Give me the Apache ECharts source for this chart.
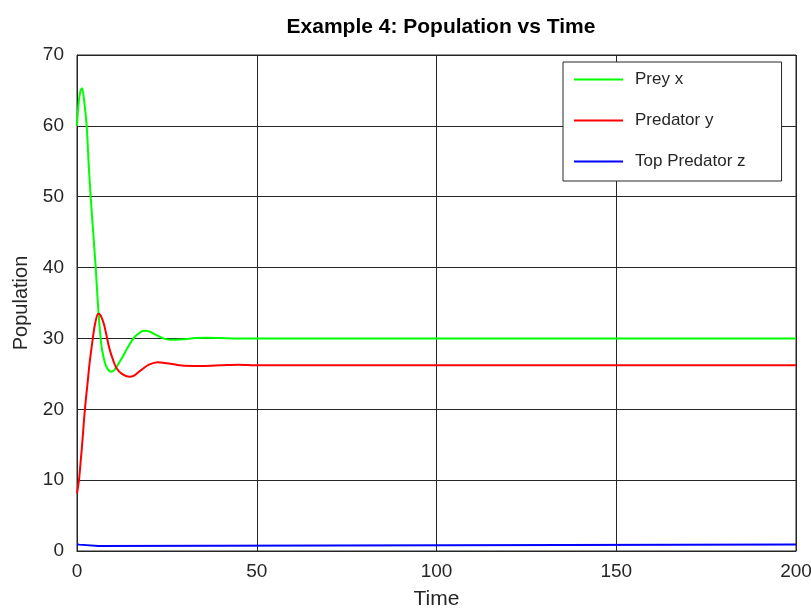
<!DOCTYPE html>
<html>
<head>
<meta charset="utf-8">
<script src="https://cdn.jsdelivr.net/npm/echarts@6/dist/echarts.min.js"></script>
<style>html,body{margin:0;padding:0;background:#fff;}#c{width:811px;height:610px;}</style>
</head>
<body>
<div id="c"></div>
<script>
var seriesNames = ["Prey x", "Predator y", "Top Predator z"];
var xTicks = [0, 50, 100, 150, 200];
var yTicks = [0, 10, 20, 30, 40, 50, 60, 70];

var preyT = [0, 0.5, 1, 1.4, 2, 2.7, 3.2, 3.8, 4.5, 5.2, 5.8, 6.4, 7, 8, 9, 9.6, 10.5, 12, 14, 16, 18, 19, 20.5, 22, 24, 26, 27.5, 30, 33, 36, 40, 45, 200];
var preyX = [60, 63.5, 65.0, 65.3, 63.5, 60, 55, 50, 45, 40, 35, 31, 28.3, 26.2, 25.4, 25.3, 25.6, 26.8, 28.6, 30.2, 31.0, 31.1, 30.9, 30.5, 30.0, 29.8, 29.8, 29.9, 30.05, 30.1, 30.05, 30.0, 30.0];

var predT = [0, 0.55, 1, 1.5, 2.2, 3, 3.5, 4.4, 5, 5.9, 6.5, 7.5, 9, 10, 11, 12.5, 14.5, 16, 18, 20, 22.5, 25, 28, 30, 35, 40, 45, 50, 200];
var predY = [8.1, 10, 12.5, 15.5, 20, 24, 26.5, 30, 32, 33.5, 33.3, 32, 28.6, 27, 25.8, 25, 24.6, 24.8, 25.6, 26.3, 26.65, 26.5, 26.25, 26.15, 26.1, 26.2, 26.3, 26.2, 26.2];

var topT = [0, 0.6, 0.8, 6, 6.2, 200];
var topZ = [0.95, 0.9, 0.72, 0.72, 0.9, 0.9];

function pairs(t, v) { return t.map(function (x, i) { return [x, v[i]]; }); }

var font = "Liberation Sans";
var lineColor = "#262626";
var chart = echarts.init(document.getElementById("c"), null, { renderer: "canvas" });
chart.setOption({
  animation: false,
  backgroundColor: "#fff",
  title: {
    text: "Example 4: Population vs Time",
    left: 436, top: 12, textAlign: "center",
    textStyle: { fontFamily: font, fontSize: 21, fontWeight: "bold", color: "#000" }
  },
  grid: { left: 77, right: 15, top: 55, bottom: 59, show: true, borderColor: lineColor, borderWidth: 1, containLabel: false, outerBoundsMode: "none" },
  legend: {
    orient: "vertical", left: 563, top: 62,
    padding: [9, 36, 11, 11], itemGap: 24,
    itemWidth: 49, itemHeight: 2, icon: "rect",
    backgroundColor: "#fff", borderColor: lineColor, borderWidth: 1,
    textStyle: { fontFamily: font, fontSize: 17, color: "#262626", padding: [0, 0, 0, 7] },
    data: seriesNames
  },
  xAxis: [{
    type: "value", min: xTicks[0], max: xTicks[xTicks.length - 1], interval: 50,
    name: "Time", nameLocation: "middle", nameGap: 38,
    nameTextStyle: { fontFamily: font, fontSize: 21, color: "#262626" },
    axisLine: { show: true, lineStyle: { color: lineColor } },
    axisTick: { show: true, inside: true, length: 5, lineStyle: { color: lineColor } },
    axisLabel: { fontFamily: font, fontSize: 19, color: "#262626", margin: 11 },
    splitLine: { show: true, lineStyle: { color: lineColor, width: 1 } }
  }],
  yAxis: [{
    type: "value", min: yTicks[0], max: yTicks[yTicks.length - 1], interval: 10,
    name: "Population", nameLocation: "middle", nameGap: 45,
    nameTextStyle: { fontFamily: font, fontSize: 20, color: "#262626" },
    axisLine: { show: true, lineStyle: { color: lineColor } },
    axisTick: { show: true, inside: true, length: 5, lineStyle: { color: lineColor } },
    axisLabel: { fontFamily: font, fontSize: 19, color: "#262626", margin: 13 },
    splitLine: { show: true, lineStyle: { color: lineColor, width: 1 } }
  }],
  series: [
    { name: seriesNames[0], type: "line", data: pairs(preyT, preyX), showSymbol: false, symbol: "none", smooth: 0.3, lineStyle: { color: "#00ff00", width: 2 }, itemStyle: { color: "#00ff00" } },
    { name: seriesNames[1], type: "line", data: pairs(predT, predY), showSymbol: false, symbol: "none", smooth: 0.3, lineStyle: { color: "#ff0000", width: 2 }, itemStyle: { color: "#ff0000" } },
    { name: seriesNames[2], type: "line", data: pairs(topT, topZ), showSymbol: false, symbol: "none", lineStyle: { color: "#0000ff", width: 2 }, itemStyle: { color: "#0000ff" } }
  ]
});
</script>
</body>
</html>
